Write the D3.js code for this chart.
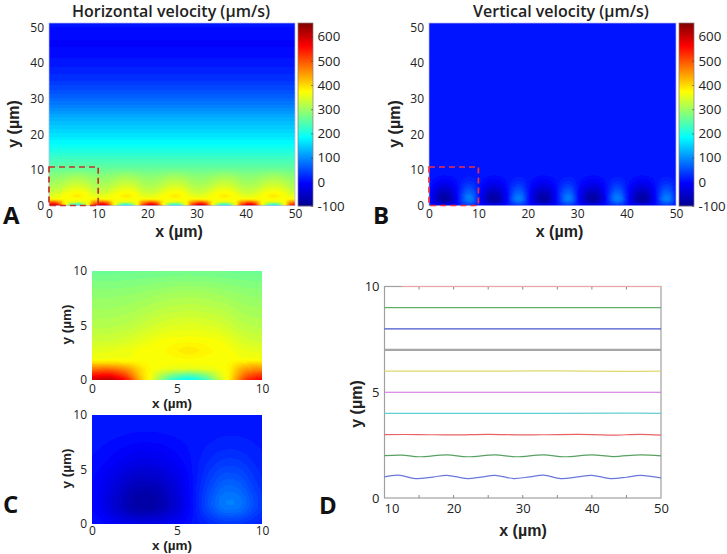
<!DOCTYPE html>
<html><head><meta charset="utf-8">
<script src="https://cdn.jsdelivr.net/npm/d3@7"></script>
<style>
html,body{margin:0;padding:0;background:#fff}
svg{display:block}
text{font-family:"Open Sans",sans-serif;fill:#222}
.tick text{font-size:12px}
.lab{font-family:"Liberation Sans",sans-serif;font-weight:700;font-size:16px;text-anchor:middle}
.title{font-weight:600;font-size:16px;text-anchor:middle}
.small{font-family:"Liberation Sans",sans-serif;font-weight:700;font-size:13.5px;text-anchor:middle}
.letter{font-weight:700;font-size:24px;fill:#111}
</style></head><body>
<script>
// ---- colour bar ----
const jetStops=[-100,-6,183,372,561,656];
const jetColors=["#00008f","#0000ff","#00ffff","#ffff00","#ff0000","#800000"];
const colorTicks=[-100,0,100,200,300,400,500,600];
// ---- one 10 µm period of the horizontal velocity (panel C top) ----
const hX=[0,1,2,2.5,3,3.4,4,4.7,5.7,6.7,7.5,8,8.4,9,10];
const hY=[0,0.5,1,1.5,1.8,2,2.7,3.5,5,6.5,8,10];
const hV=[
[600,620,560,475,400,372,290,215,175,220,330,372,430,525,575],
[540,555,505,445,392,372,325,280,250,285,350,372,412,485,520],
[475,485,455,420,388,372,362,356,352,356,366,372,402,445,458],
[408,408,398,388,376,372,370,368,366,368,370,372,386,402,408],
[372,372,372,372,372,372,372,372,372,372,372,372,372,372,372],
[362,362,364,366,368,370,372,372,374,372,372,370,368,364,362],
[352,354,360,364,372,372,372,376,395,376,372,370,362,356,352],
[336,338,344,350,356,362,368,372,372,372,368,360,352,342,336],
[316,317,321,326,331,336,342,347,350,347,342,335,328,321,316],
[302,302,305,308,312,316,320,324,327,324,320,316,311,305,302],
[288,288,290,292,294,296,299,303,305,303,299,296,293,290,288],
[262,262,263,263,264,264,265,266,267,266,265,264,263,263,262]];
// ---- far-field horizontal velocity profile (panel A, above y = 10) ----
const hProfileY=[10,12,15,17.5,20,25,30,35,40,45,48,51.2];
const hProfileV=[264,240,210,183,160,120,68,31,9,-6,-3,8];
// ---- one 10 µm period of the vertical velocity (panel C bottom) ----
const vX=[0,1,2,3.2,4.5,5.8,7,8.3,9.3,10];
const vY=[0,0.5,1,1.8,3,4,5,6,7,8,8.5,10];
const vV=[
[10,0,-5,-12,-5,5,18,24,18,10],
[8,-18,-40,-55,-35,0,35,55,35,14],
[5,-30,-65,-85,-58,-5,58,90,55,18],
[3,-35,-75,-100,-68,-5,68,115,65,22],
[2,-30,-65,-85,-58,-4,58,92,52,18],
[2,-22,-50,-64,-44,-2,46,72,42,14],
[4,-12,-32,-44,-30,0,36,54,32,12],
[6,-3,-17,-26,-14,4,25,36,22,12],
[8,2,-7,-12,-6,6,16,24,16,11],
[10,8,2,0,3,8,11,15,11,10],
[10,10,8,6,8,10,10,12,10,10],
[10,10,10,10,10,10,10,10,10,10]];
const vFar=10;
// ---- streamlines (panel D) ----
const lineColors=["#6a76dc","#5aa060","#ea6065","#62cfd2","#cc6cdc","#e0d870","#a6a6a6","#4656cc","#62ae68","#f4a0a0"];
const lineWidths=[1.2,1.2,1.2,1.2,1.2,1.2,2.2,1.2,1.2,1];
const lx1=[10,12,14.5,17,19,22,24,26,28.7,31,33,35.5,38,40,42.7,45,47,50];
const ly1=[1,1.08,0.92,0.99,1.07,0.92,0.99,1.07,0.92,1,1.08,0.92,1,1.07,0.92,0.98,1.07,0.95];
const lx2=[10,12.5,15,19,22,26,29,33,36,40,43,47,50];
const ly2=[2,2.03,1.95,2.04,1.95,2.04,1.95,2.04,1.95,2.04,1.96,2.04,1.99];
const lx3=[10,15,20,25,30,35,40,43,47,50];
const ly3=[3,3,2.98,3.01,2.98,3,3,2.97,3.01,2.97];
const lx4=[10,30,45,50];const ly4=[4,4,4.01,4];
const lx5=[10,30,50];const ly5=[5,5,5];
const lx6=[10,26,35,45,50];const ly6=[6,6,6.01,5.99,6];
const lx7=[10,50];const ly7=[7,7];
const lx8=[10,50];const ly8=[8,8];
const lx9=[10,50];const ly9=[9,9];
const lx10=[12.5,50];const ly10=[10,10];
const linesX=[lx1,lx2,lx3,lx4,lx5,lx6,lx7,lx8,lx9,lx10];
const linesY=[ly1,ly2,ly3,ly4,ly5,ly6,ly7,ly8,ly9,ly10];

const W=727,H=554;
const svg=d3.select("body").append("svg").attr("width",W).attr("height",H);
const jet=d3.scaleLinear().domain(jetStops).range(jetColors).clamp(true);
const band=9;
const colorOf=v=>jet(Math.round(v/band)*band);

function locate(arr,v){
  v=Math.max(arr[0],Math.min(arr[arr.length-1],v));
  let i=d3.bisectRight(arr,v)-1;
  i=Math.max(0,Math.min(arr.length-2,i));
  return [i,(v-arr[i])/(arr[i+1]-arr[i])];
}
function grid(xs,ys,vals,x,y){
  const [i,a]=locate(xs,x),[j,b]=locate(ys,y);
  return (vals[j][i]*(1-a)+vals[j][i+1]*a)*(1-b)+(vals[j+1][i]*(1-a)+vals[j+1][i+1]*a)*b;
}
const wrap=x=>((x%10)+10)%10;
// the read grid is drawn with a small averaging window so cell edges do not show
function soft(xs,ys,vals,rx,ry,periodic){
  const o=[-1,-.5,0,.5,1];
  return (x,y)=>{
    let s=0;
    for(const a of o)for(const b of o){
      const px=periodic?wrap(x+a*rx):x+a*rx;
      s+=grid(xs,ys,vals,px,Math.max(0,y+b*ry));
    }
    return s/25;
  };
}
const hSoftP=soft(hX,hY,hV,.25,.12,true),hSoft=soft(hX,hY,hV,.25,.12,false);
const vSoftP=soft(vX,vY,vV,.8,.7,true),vSoft=soft(vX,vY,vV,.8,.7,false);
const hField=(x,y)=>{
  if(y<=10) return hSoftP(x,y);
  const [i,a]=locate(hProfileY,y);
  return hProfileV[i]*(1-a)+hProfileV[i+1]*a;
};
const vField=(x,y)=>y<=10?vSoftP(x,y):vFar;

function heat(sx,sy,f){
  const [x0,x1]=sx.range(),[y1,y0]=sy.range();
  const w=Math.round(x1-x0),h=Math.round(y1-y0);
  const c=document.createElement("canvas");c.width=w;c.height=h;
  const g=c.getContext("2d");
  for(let j=0;j<h;j++)for(let i=0;i<w;i++){
    g.fillStyle=colorOf(f(sx.invert(x0+i+.5),sy.invert(y0+j+.5)));
    g.fillRect(i,j,1,1);
  }
  svg.append("image").attr("x",x0).attr("y",y0).attr("width",w).attr("height",h).attr("href",c.toDataURL());
}
function axes(sx,sy,xt,yt,padX,padY){
  svg.append("g").attr("transform",`translate(0,${sy.range()[0]})`)
    .call(d3.axisBottom(sx).tickValues(xt).tickSize(0).tickPadding(padX)).call(g=>g.select(".domain").remove());
  svg.append("g").attr("transform",`translate(${sx.range()[0]},0)`)
    .call(d3.axisLeft(sy).tickValues(yt).tickSize(0).tickPadding(padY)).call(g=>g.select(".domain").remove());
}
function label(cls,x,y,t,rot){
  const s=svg.append("text").attr("class",cls).text(t);
  if(rot) s.attr("transform",`translate(${x},${y}) rotate(-90)`);
  else s.attr("x",x).attr("y",y);
}
function mainPanel(x0,x1,barX,title,titleX,xLabX,yLabX,f,dash){
  const sx=d3.scaleLinear().domain([0,50]).range([x0,x1]);
  const sy=d3.scaleLinear().domain([0,51.2]).range([205.5,23]);
  heat(sx,sy,f);
  svg.append("rect").attr("x",x0).attr("y",23).attr("width",x1-x0).attr("height",182.5)
    .attr("fill","none").attr("stroke","#b8b8ee").attr("stroke-width",.7);
  axes(sx,sy,[0,10,20,30,40,50],[0,10,20,30,40,50],4,5);
  svg.append("rect").attr("x",sx(0)).attr("y",sy(10.8)).attr("width",sx(10)-sx(0)).attr("height",sy(0)-sy(10.8))
    .attr("fill","none").attr("stroke",dash).attr("stroke-width",1.7).attr("stroke-dasharray","6 4");
  const sc=d3.scaleLinear().domain([-100,656]).range([206,23]);
  const vals=d3.range(23,206);
  svg.append("g").selectAll("rect").data(vals).join("rect")
    .attr("x",barX).attr("y",d=>d).attr("width",15).attr("height",1.2)
    .attr("fill",d=>jet(sc.invert(d+.5)));
  svg.append("rect").attr("x",barX).attr("y",23).attr("width",15).attr("height",183)
    .attr("fill","none").attr("stroke","#8a7a7a").attr("stroke-width",.7);
  svg.append("g").attr("transform",`translate(${barX+15},0)`)
    .call(d3.axisRight(sc).tickValues(colorTicks).tickFormat(d=>String(d)).tickSize(-2).tickPadding(6))
    .call(g=>g.select(".domain").remove())
    .call(g=>g.selectAll("text").attr("x",4.5).style("font-size","13.3px"))
    .call(g=>g.selectAll("line").attr("stroke","#333").attr("stroke-width",.5));
  label("title",titleX,17,title);
  label("lab",xLabX,237,"x (µm)");
  label("lab",yLabX,124,"y (µm)",true);
}
mainPanel(49,295,298,"Horizontal velocity (µm/s)",171,179,19,hField,"#c8302c");
mainPanel(429,676,679,"Vertical velocity (µm/s)",561,559.5,400,vField,"#ee3040");

function zoomPanel(y0,y1,f,xlabY,padX){
  const sx=d3.scaleLinear().domain([0,10]).range([92,262]);
  const sy=d3.scaleLinear().domain([0,10]).range([y1,y0]);
  heat(sx,sy,f);
  axes(sx,sy,[0,5,10],[0,5,10],padX,5);
  label("small",172,xlabY,"x (µm)");
  label("small",71,(y0+y1)/2-1,"y (µm)",true);
}
zoomPanel(271,380,hSoft,408,4);
zoomPanel(415,524,vSoft,550.4,2);

// Panel D
const dx=d3.scaleLinear().domain([10,50]).range([384.5,661]);
const dy=d3.scaleLinear().domain([0,10]).range([498,286.5]);
const frame="#a0a0a0";
svg.append("rect").attr("x",dx(10)).attr("y",dy(10)).attr("width",dx(50)-dx(10)).attr("height",dy(0)-dy(10))
  .attr("fill","none").attr("stroke",frame).attr("stroke-width",1.2);
const minor=d3.range(15,50,5);
svg.append("g").selectAll("line").data(minor).join("line")
  .attr("x1",d=>dx(d)).attr("x2",d=>dx(d)).attr("y1",dy(0)).attr("y2",dy(0)-3).attr("stroke","#888");
svg.append("g").selectAll("line").data(minor).join("line")
  .attr("x1",d=>dx(d)).attr("x2",d=>dx(d)).attr("y1",dy(10)).attr("y2",dy(10)+3).attr("stroke","#888");
const pathGen=d3.line().x(d=>dx(d[0])).y(d=>dy(d[1])).curve(d3.curveCatmullRom.alpha(.5));
svg.append("g").selectAll("path").data(linesX.map((xs,i)=>d3.zip(xs,linesY[i]))).join("path")
  .attr("d",pathGen).attr("fill","none")
  .attr("stroke",(d,i)=>lineColors[i]).attr("stroke-width",(d,i)=>lineWidths[i]);
svg.append("g").attr("transform",`translate(0,${dy(0)})`)
  .call(d3.axisBottom(dx).tickValues([10,20,30,40,50]).tickSize(0).tickPadding(6))
  .call(g=>g.select(".domain").remove())
  .call(g=>g.selectAll("text").style("font-size","13px"))
  .call(g=>g.select(".tick text").attr("x",7));
svg.append("g").attr("transform",`translate(${dx(10)},0)`)
  .call(d3.axisLeft(dy).tickValues([0,5,10]).tickSize(0).tickPadding(5))
  .call(g=>g.select(".domain").remove()).call(g=>g.selectAll("text").style("font-size","13px"));
label("lab",523,536,"x (µm)");
label("lab",362,404,"y (µm)",true);

label("letter",3,224,"A");
label("letter",373,224,"B");
label("letter",3,513,"C");
label("letter",319,514,"D");
</script>
</body></html>
